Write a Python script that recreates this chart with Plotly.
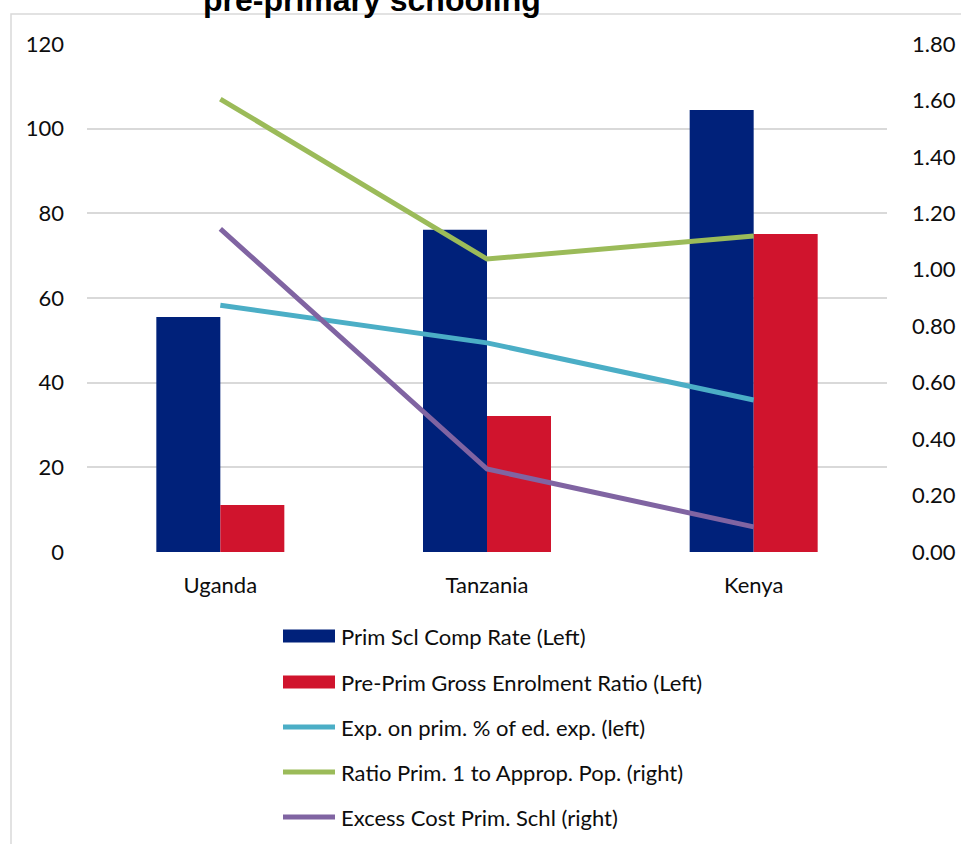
import plotly.graph_objects as go

# ---------------- data ----------------
countries = ["Uganda", "Tanzania", "Kenya"]
prim_comp_rate = [55.5, 76.1, 104.4]          # left axis (bar)
pre_prim_ger = [11.1, 32.1, 75.1]             # left axis (bar)
exp_prim_share = [58.3, 49.4, 35.9]           # left axis (line)
ratio_prim1_pop = [1.605, 1.038, 1.12]        # right axis (line)
excess_cost = [1.145, 0.294, 0.089]           # right axis (line)

series_names = [
    "Prim Scl Comp Rate (Left)",
    "Pre-Prim Gross Enrolment Ratio (Left)",
    "Exp. on prim. % of ed. exp. (left)",
    "Ratio Prim. 1 to Approp. Pop. (right)",
    "Excess Cost Prim. Schl (right)",
]
series_kind = ["bar", "bar", "line", "line", "line"]
colors = ["#00217A", "#D0142D", "#4BAEC6", "#9BBB59", "#8064A2"]
title_text = "pre-primary schooling"
left_ticks = [0, 20, 40, 60, 80, 100, 120]
right_ticks = [0, 0.2, 0.4, 0.6, 0.8, 1.0, 1.2, 1.4, 1.6, 1.8]

# ---------------- layout geometry ----------------
W, H = 961, 844
L, R, T, B = 87, 74, 44, 292
PW, PH = W - L - R, H - T - B


def px_x(x):
    return (x - L) / PW


def px_y(y):
    return (H - B - y) / PH


FONT = "Lato"
FS = 22
TXT = "#0d0d0d"

fig = go.Figure()
fig.add_trace(go.Bar(x=countries, y=prim_comp_rate, name=series_names[0],
                     marker=dict(color=colors[0], line=dict(width=0)), showlegend=False))
fig.add_trace(go.Bar(x=countries, y=pre_prim_ger, name=series_names[1],
                     marker=dict(color=colors[1], line=dict(width=0)), showlegend=False))
fig.add_trace(go.Scatter(x=countries, y=exp_prim_share, name=series_names[2], mode="lines",
                         line=dict(color=colors[2], width=5), showlegend=False))
fig.add_trace(go.Scatter(x=countries, y=ratio_prim1_pop, name=series_names[3], mode="lines",
                         line=dict(color=colors[3], width=5), yaxis="y2", showlegend=False))
fig.add_trace(go.Scatter(x=countries, y=excess_cost, name=series_names[4], mode="lines",
                         line=dict(color=colors[4], width=5), yaxis="y2", showlegend=False))

shapes = []
annotations = []

# outer chart border (partially cropped)
shapes.append(dict(type="rect", xref="paper", yref="paper",
                   x0=px_x(11), x1=px_x(1100), y0=px_y(1000), y1=px_y(14),
                   line=dict(color="#D9D9D9", width=1.5), layer="below"))

# custom legend
leg_y = [636, 682, 727, 772, 817]
for name, kind, col, yy in zip(series_names, series_kind, colors, leg_y):
    if kind == "bar":
        shapes.append(dict(type="rect", xref="paper", yref="paper",
                           x0=px_x(283), x1=px_x(335), y0=px_y(yy + 6.5), y1=px_y(yy - 6.5),
                           fillcolor=col, line=dict(width=0)))
    else:
        shapes.append(dict(type="line", xref="paper", yref="paper",
                           x0=px_x(283), x1=px_x(335), y0=px_y(yy), y1=px_y(yy),
                           line=dict(color=col, width=5)))
    annotations.append(dict(text=name, xref="paper", yref="paper", x=px_x(339), y=px_y(yy),
                            xanchor="left", yanchor="middle", showarrow=False,
                            font=dict(family=FONT, size=FS, color=TXT)))

# cropped title (the reference image cuts it at the top edge)
annotations.append(dict(text="<b>" + title_text + "</b>", xref="paper", yref="paper",
                        x=px_x(372), y=px_y(0), xanchor="center", yanchor="middle",
                        showarrow=False,
                        font=dict(family="Liberation Sans, Arial", size=32, color="#000000")))

fig.update_layout(
    width=W, height=H,
    margin=dict(l=L, r=R, t=T, b=B, autoexpand=False),
    paper_bgcolor="white", plot_bgcolor="white",
    barmode="group", bargap=0.52, bargroupgap=0,
    showlegend=False,
    font=dict(family=FONT, size=FS, color=TXT),
    xaxis=dict(showgrid=False, showline=False, ticks="", ticklabelstandoff=18,
               tickfont=dict(family=FONT, size=FS, color=TXT)),
    yaxis=dict(range=[0, 120], tickvals=left_ticks, showgrid=True, gridcolor="#D9D9D9",
               gridwidth=1.5, zeroline=False, showline=False, ticks="",
               ticklabelstandoff=22, tickfont=dict(family=FONT, size=FS, color=TXT)),
    yaxis2=dict(range=[0, 1.8], tickvals=right_ticks, tickformat=".2f", overlaying="y",
                side="right", showgrid=False, zeroline=False, showline=False, ticks="",
                ticklabelstandoff=24, tickfont=dict(family=FONT, size=FS, color=TXT)),
    shapes=shapes,
    annotations=annotations,
)

fig.write_html("out.html")
